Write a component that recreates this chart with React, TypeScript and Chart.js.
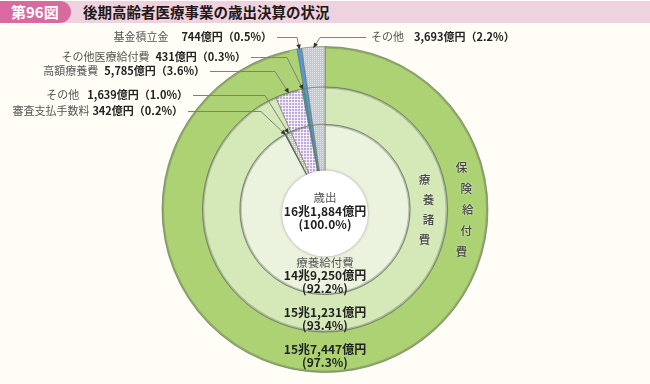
import React, { useEffect, useRef } from "react";
import { Chart, registerables } from "chart.js";
Chart.register(...registerables);

const FIG_NO = "第96図";
const TITLE = "後期高齢者医療事業の歳出決算の状況";

// 単位：億円（時計回り、12時の位置から）
const outerNames = ["保険給付費", "基金積立金", "その他"];
const outerValues = [157447, 744, 3693];
const outerPct = [97.3, 0.5, 2.2];

const middleNames = ["療養諸費", "高額療養費", "その他医療給付費", "基金積立金", "その他"];
const middleValues = [151231, 5785, 431, 744, 3693];
const middlePct = [93.4, 3.6, 0.3, 0.5, 2.2];

const innerNames = ["療養給付費", "審査支払手数料", "その他", "高額療養費", "その他医療給付費", "基金積立金", "その他"];
const innerValues = [149250, 342, 1639, 5785, 431, 744, 3693];
const innerPct = [92.2, 0.2, 1.0, 3.6, 0.3, 0.5, 2.2];

const totalName = "歳出";
const totalValue = 161884;
const totalPct = 100.0;

const FONT = '"Noto Sans CJK JP", "Noto Sans", sans-serif';
const VALW = "600";

function fmtOku(v: number): string {
  const cho = Math.floor(v / 10000);
  const rest = v % 10000;
  const r = rest.toLocaleString("en-US");
  return cho > 0 ? `${cho}兆${r}億円` : `${r}億円`;
}

function makePattern(base: string, mark: string, size: number, mode: "grid" | "dots") {
  const c = document.createElement("canvas");
  c.width = size;
  c.height = size;
  const g = c.getContext("2d")!;
  g.fillStyle = base;
  g.fillRect(0, 0, size, size);
  g.fillStyle = mark;
  if (mode === "grid") {
    g.fillRect(0, 0, size, 1);
    g.fillRect(0, 0, 1, size);
  } else {
    g.fillRect(0, 0, 1, 1);
  }
  return g.createPattern(c, "repeat")!;
}

export default function App() {
  const ref = useRef<HTMLCanvasElement>(null);

  useEffect(() => {
    const canvas = ref.current!;
    const purple = makePattern("#c2aadd", "rgba(255,255,255,0.75)", 3, "grid");
    const yellow = makePattern("#c8da58", "rgba(255,255,255,0.9)", 2, "dots");
    const gray = makePattern("#c3c8cd", "#e2e5e8", 2, "dots");
    const blue = "#5b96d4";
    const teal = "#33a99b";
    const navy = "#2d4f90";

    const outerColors = ["#acd273", blue, gray];
    const middleColors = ["#d5e8b7", purple, teal, blue, gray];
    const innerColors = ["#ebf3df", navy, yellow, purple, teal, blue, gray];

    const callouts = [
      { ds: 0, idx: 1, name: outerNames[1], v: outerValues[1], p: outerPct[1], side: "L", x: 272, y: 37, gap: 13, ex: 297 },
      { ds: 0, idx: 2, name: outerNames[2], v: outerValues[2], p: outerPct[2], side: "R", x: 371, y: 37, gap: 10, ex: 320 },
      { ds: 1, idx: 2, name: middleNames[2], v: middleValues[2], p: middlePct[2], side: "L", x: 246, y: 57, gap: 6, ex: 287 },
      { ds: 1, idx: 1, name: middleNames[1], v: middleValues[1], p: middlePct[1], side: "L", x: 205, y: 71, gap: 6, ex: 275 },
      { ds: 2, idx: 2, name: innerNames[2], v: innerValues[2], p: innerPct[2], side: "L", x: 188, y: 95, gap: 8, ex: 265 },
      { ds: 2, idx: 1, name: innerNames[1], v: innerValues[1], p: innerPct[1], side: "L", x: 183, y: 111, gap: 3, ex: 261 },
    ];

    const overlay = {
      id: "overlay",
      afterDatasetsDraw(chart: any) {
        const ctx: CanvasRenderingContext2D = chart.ctx;
        const m0 = chart.getDatasetMeta(0).data[0];
        const m1 = chart.getDatasetMeta(1).data[0];
        const m2 = chart.getDatasetMeta(2).data[0];
        const cx = m0.x, cy = m0.y;
        ctx.save();

        // soft shading at ring boundaries
        ctx.strokeStyle = "rgba(90,100,80,0.35)";
        ctx.lineWidth = 2;
        [m0.outerRadius, m1.outerRadius, m2.outerRadius].forEach((r: number) => {
          ctx.beginPath();
          ctx.arc(cx, cy, r - 1, -Math.PI / 2, -Math.PI / 2 + 2 * Math.PI * 0.965);
          ctx.stroke();
        });

        // white centre
        ctx.beginPath();
        ctx.arc(cx, cy + 4, 43, 0, Math.PI * 2);
        ctx.fillStyle = "#ffffff";
        ctx.shadowColor = "rgba(0,0,0,0.35)";
        ctx.shadowBlur = 3;
        ctx.fill();
        ctx.shadowColor = "transparent";
        ctx.shadowBlur = 0;

        ctx.textAlign = "center";
        ctx.textBaseline = "middle";
        const line = (t: string, x: number, y: number, color: string, weight = VALW, size = 12) => {
          ctx.font = `${weight} ${size}px ${FONT}`;
          ctx.fillStyle = color;
          ctx.fillText(t, x, y);
        };
        line(totalName, cx, cy - 12, "#555", "400", 11.5);
        line(fmtOku(totalValue), cx, cy + 2, "#222");
        line(`(${totalPct.toFixed(1)}%)`, cx, cy + 15, "#222");

        const innerMid = m2.outerRadius;
        line(innerNames[0], cx, cy + innerMid - 32, "#555", "400", 11.5);
        line(fmtOku(innerValues[0]), cx, cy + innerMid - 19, "#222");
        line(`(${innerPct[0].toFixed(1)}%)`, cx, cy + innerMid - 6, "#222");

        const midMid = (m1.outerRadius + m1.innerRadius) / 2;
        line(fmtOku(middleValues[0]), cx, cy + midMid - 1, "#222");
        line(`(${middlePct[0].toFixed(1)}%)`, cx, cy + midMid + 12, "#222");

        const outMid = (m0.outerRadius + m0.innerRadius) / 2;
        line(fmtOku(outerValues[0]), cx, cy + outMid - 3, "#222");
        line(`(${outerPct[0].toFixed(1)}%)`, cx, cy + outMid + 10, "#222");

        // vertical ring names
        const vert = (text: string, r: number, step: number) => {
          const chars = Array.from(text);
          ctx.font = `500 11.5px ${FONT}`;
          ctx.fillStyle = "#444";
          ctx.shadowColor = "rgba(255,255,255,0.95)";
          ctx.shadowBlur = 2;
          chars.forEach((ch, i) => {
            const dy = (i - (chars.length - 1) / 2) * step;
            const dx = Math.sqrt(Math.max(0, r * r - dy * dy));
            ctx.fillText(ch, cx + dx, cy + dy);
          });
          ctx.shadowColor = "transparent";
          ctx.shadowBlur = 0;
        };
        vert(outerNames[0], outMid, 21);
        vert(middleNames[0], midMid, 20);

        // callouts
        for (const c of callouts) {
          const el = chart.getDatasetMeta(c.ds).data[c.idx];
          const mid = (el.startAngle + el.endAngle) / 2;
          const r = el.outerRadius - 1;
          const tx = el.x + Math.cos(mid) * r;
          const ty = el.y + Math.sin(mid) * r;
          const valText = `${fmtOku(c.v)}（${c.p.toFixed(1)}%）`;
          ctx.textBaseline = "middle";
          ctx.font = `${VALW} 11px ${FONT}`;
          const vw = ctx.measureText(valText).width;
          ctx.font = `400 11px ${FONT}`;
          const nw = ctx.measureText(c.name).width;
          let lx: number;
          if (c.side === "L") {
            ctx.textAlign = "right";
            ctx.font = `${VALW} 11px ${FONT}`;
            ctx.fillStyle = "#222";
            ctx.fillText(valText, c.x, c.y);
            ctx.font = `400 11px ${FONT}`;
            ctx.fillStyle = "#555";
            ctx.fillText(c.name, c.x - vw - c.gap, c.y);
            lx = c.x + 5;
          } else {
            ctx.textAlign = "left";
            ctx.font = `400 11px ${FONT}`;
            ctx.fillStyle = "#555";
            ctx.fillText(c.name, c.x, c.y);
            ctx.font = `${VALW} 11px ${FONT}`;
            ctx.fillStyle = "#222";
            ctx.fillText(valText, c.x + nw + c.gap, c.y);
            lx = c.x - 5;
          }
          ctx.strokeStyle = "#808080";
          ctx.lineWidth = 1;
          ctx.beginPath();
          ctx.moveTo(lx, c.y + 0.5);
          ctx.lineTo(c.ex, c.y + 0.5);
          ctx.lineTo(tx, ty);
          ctx.stroke();
          const ang = Math.atan2(ty - c.y, tx - c.ex);
          const L = 5, W = 2.3;
          ctx.fillStyle = "#333";
          ctx.beginPath();
          ctx.moveTo(tx, ty);
          ctx.lineTo(tx - L * Math.cos(ang) + W * Math.sin(ang), ty - L * Math.sin(ang) - W * Math.cos(ang));
          ctx.lineTo(tx - L * Math.cos(ang) - W * Math.sin(ang), ty - L * Math.sin(ang) + W * Math.cos(ang));
          ctx.closePath();
          ctx.fill();
        }
        ctx.restore();
      },
    };

    const border = "rgba(95,105,85,0.55)";
    const chart = new Chart(canvas, {
      type: "doughnut",
      data: {
        labels: innerNames,
        datasets: [
          { data: outerValues, backgroundColor: outerColors, borderColor: border, borderWidth: 1, weight: 41 } as any,
          { data: middleValues, backgroundColor: middleColors, borderColor: border, borderWidth: 1, weight: 38 } as any,
          { data: innerValues, backgroundColor: innerColors, borderColor: border, borderWidth: 1, weight: 48 } as any,
        ],
      },
      options: {
        responsive: false,
        animation: false,
        cutout: 38,
        layout: { padding: { top: 46, bottom: 11, left: 161, right: 161 } },
        plugins: { legend: { display: false }, tooltip: { enabled: false } },
      } as any,
      plugins: [overlay],
    });
    return () => chart.destroy();
  }, []);

  return (
    <div
      style={{
        position: "absolute",
        left: 0,
        top: 0,
        width: 650,
        height: 384,
        background: "#fffdf6",
        overflow: "hidden",
        fontFamily: FONT,
      }}
    >
      <canvas ref={ref} width={650} height={384} style={{ position: "absolute", left: 0, top: 0 }} />
      <div style={{ position: "absolute", left: 0, top: 1, width: 650, height: 22, background: "#efd2e0" }} />
      <div
        style={{
          position: "absolute",
          left: 0,
          top: 1,
          width: 71,
          height: 22,
          background: "#d86a9f",
          borderRadius: "0 11px 11px 0",
          color: "#fff",
          fontWeight: 700,
          fontSize: 15,
          lineHeight: "22px",
          paddingLeft: 11,
          boxSizing: "border-box",
          whiteSpace: "nowrap",
        }}
      >
        {FIG_NO}
      </div>
      <div
        style={{
          position: "absolute",
          left: 83,
          top: 1,
          height: 22,
          lineHeight: "22px",
          fontSize: 14.5,
          fontWeight: 700,
          color: "#231815",
          whiteSpace: "nowrap",
        }}
      >
        {TITLE}
      </div>
    </div>
  );
}
